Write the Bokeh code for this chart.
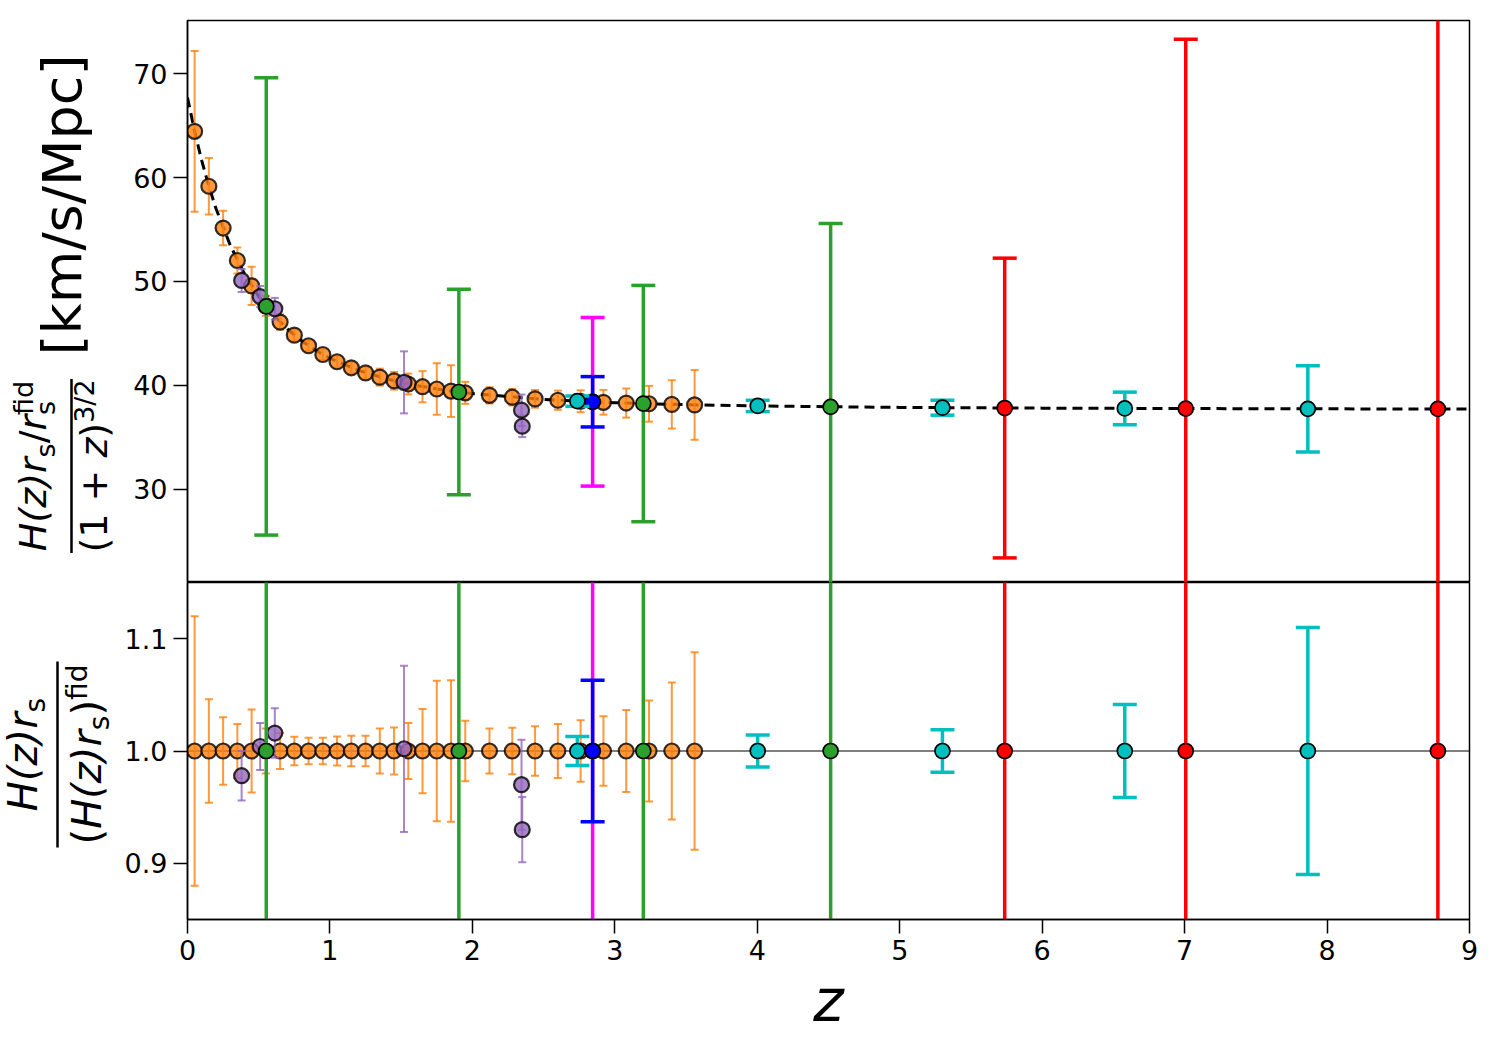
import math
from bokeh.plotting import figure
from bokeh.models import Range1d, FixedTicker, Span, CustomJSTickFormatter
from bokeh.core.properties import value
from bokeh.layouts import column, row
from bokeh.embed import file_html
from bokeh.resources import INLINE

# ---------------- data ----------------
# fiducial dashed curve  H(z) rs/rs_fid / (1+z)^1.5
fid_z = [0.0, 0.05, 0.1, 0.15, 0.2, 0.3, 0.4, 0.5, 0.6, 0.7, 0.8, 0.9, 1.0, 1.2, 1.4,
         1.6, 1.8, 2.0, 2.5, 3.0, 3.5, 4.0, 5.0, 6.0, 7.0, 8.0, 9.0]
fid_h = [67.70, 64.44, 61.62, 59.16, 57.02, 53.48, 50.73, 48.56, 46.83, 45.44, 44.31,
         43.38, 42.62, 41.45, 40.62, 40.01, 39.56, 39.22, 38.66, 38.34, 38.15, 38.03,
         37.89, 37.82, 37.78, 37.75, 37.74]

# orange points
orange_z = [0.05, 0.15, 0.25, 0.35, 0.45, 0.55, 0.65, 0.75, 0.85, 0.95, 1.05, 1.15, 1.25,
            1.35, 1.45, 1.55, 1.65, 1.75, 1.85, 1.95, 2.12, 2.28, 2.44, 2.60, 2.76, 2.92,
            3.08, 3.24, 3.40, 3.56]
orange_h = [64.44, 59.16, 55.14, 52.02, 49.58, 47.65, 46.10, 44.84, 43.82, 42.98, 42.28,
            41.70, 41.21, 40.80, 40.45, 40.14, 39.88, 39.66, 39.46, 39.29, 39.05, 38.87,
            38.71, 38.58, 38.48, 38.38, 38.31, 38.24, 38.18, 38.13]
orange_ratio = [1.0, 1.0, 1.0, 1.0, 1.0, 1.0, 1.0, 1.0, 1.0, 1.0, 1.0, 1.0, 1.0, 1.0, 1.0,
                1.0, 1.0, 1.0, 1.0, 1.0, 1.0, 1.0, 1.0, 1.0, 1.0, 1.0, 1.0, 1.0, 1.0, 1.0]
orange_err = [0.120, 0.046, 0.030, 0.024, 0.037, 0.020, 0.016, 0.0127, 0.0118, 0.0118,
              0.013, 0.0136, 0.0136, 0.020, 0.021, 0.025, 0.0375, 0.0625, 0.063, 0.027,
              0.020, 0.0206, 0.022, 0.024, 0.0274, 0.031, 0.0366, 0.045, 0.061, 0.088]

# purple points
purple_z = [0.38, 0.51, 0.613, 1.52, 2.345, 2.35]
purple_h = [50.10, 48.55, 47.38, 40.30, 37.62, 36.08]
purple_ratio = [0.978, 1.004, 1.016, 1.002, 0.970, 0.930]
purple_err = [0.022, 0.021, 0.022, 0.074, 0.040, 0.029]

# green points
green_z = [0.553, 1.905, 3.20, 4.515]
green_h = [47.60, 39.37, 38.26, 37.94]
green_ratio = [1.0, 1.0, 1.0, 1.0]
green_err = [0.462, 0.251, 0.297, 0.465]

# magenta point
magenta_z = [2.844]
magenta_h = [38.43]
magenta_ratio = [1.0]
magenta_err = [0.211]

# blue point
blue_z = [2.844]
blue_h = [38.43]
blue_ratio = [1.0]
blue_err = [0.063]

# cyan points
cyan_z = [2.737, 4.003, 5.30, 6.58, 7.865]
cyan_h = [38.49, 38.03, 37.86, 37.79, 37.75]
cyan_ratio = [1.0, 1.0, 1.0, 1.0, 1.0]
cyan_err = [0.013, 0.0143, 0.019, 0.0415, 0.110]

# red points
red_z = [5.737, 7.008, 8.778]
red_h = [37.83, 37.78, 37.74]
red_ratio = [1.0, 1.0, 1.0]
red_err = [0.381, 0.940, 1.200]

x_ticks = [0, 1, 2, 3, 4, 5, 6, 7, 8, 9]
top_ticks = [30, 40, 50, 60, 70]
bot_ticks = [0.9, 1.0, 1.1]

# ---------------- layout constants ----------------
W, H = 1500, 1050
LW = 119                      # width of the strip holding the y-axis titles
FL, FR = 187, 1469            # frame left / right (page pixels)
TOP_T, TOP_B = 20, 582
BOT_B = 919
XR = (0, 9)
YT_R = (21.05, 75.1)
YB_R = (0.85, 1.15)
FONT = "DejaVu Sans"
PW = W - LW

p1 = figure(width=PW, height=TOP_B, x_range=Range1d(*XR), y_range=Range1d(*YT_R),
            x_axis_location=None, toolbar_location=None, output_backend="svg",
            min_border_left=FL - LW, min_border_right=W - FR, min_border_top=TOP_T,
            min_border_bottom=0, title=None)
p2 = figure(width=PW, height=H - TOP_B, x_range=p1.x_range, y_range=Range1d(*YB_R),
            toolbar_location=None, output_backend="svg",
            min_border_left=FL - LW, min_border_right=W - FR, min_border_top=0,
            min_border_bottom=H - BOT_B, title=None)


def style_axis(ax):
    ax.major_tick_out = 14
    ax.major_tick_in = 0
    ax.minor_tick_out = 0
    ax.minor_tick_in = 0
    ax.major_tick_line_width = 1.5
    ax.major_tick_line_color = "black"
    ax.axis_line_width = 1.5
    ax.axis_line_color = "black"
    ax.major_label_text_font = FONT
    ax.major_label_text_font_size = "27px"
    ax.major_label_text_color = "black"
    ax.major_label_standoff = 6


for p in (p1, p2):
    p.xgrid.visible = False
    p.ygrid.visible = False
    p.outline_line_color = "black"
    p.outline_line_width = 1.5
    p.background_fill_color = "white"
    p.border_fill_color = "white"
    for ax in p.yaxis:
        style_axis(ax)

p1.yaxis.ticker = FixedTicker(ticks=top_ticks)
p2.yaxis.ticker = FixedTicker(ticks=bot_ticks)
p2.yaxis.formatter = CustomJSTickFormatter(code="return tick.toFixed(1)")
for ax in p2.xaxis:
    style_axis(ax)
p2.xaxis.ticker = FixedTicker(ticks=x_ticks)
p2.xaxis.axis_label = "z"
p2.xaxis.axis_label_text_font = FONT
p2.xaxis.axis_label_text_font_style = "italic"
p2.xaxis.axis_label_text_font_size = "58px"
p2.xaxis.axis_label_text_color = "black"
p2.xaxis.axis_label_standoff = 4

# fiducial lines
p1.line(fid_z, fid_h, line_color="black", line_width=3, line_dash="10 6")
ref = Span(location=1.0, dimension="width", line_color="black", line_width=1.2)
ref.level = "underlay"
p2.add_layout(ref)


def draw(z, h, ratio, err, color, alpha, lw, capw, capthick, edge_w, edge_alpha):
    top_lo = [v - v * e for v, e in zip(h, err)]
    top_hi = [v + v * e for v, e in zip(h, err)]
    bot_lo = [r - e for r, e in zip(ratio, err)]
    bot_hi = [r + e for r, e in zip(ratio, err)]
    for p, y, lo, hi in ((p1, h, top_lo, top_hi), (p2, ratio, bot_lo, bot_hi)):
        p.segment(x0=z, y0=lo, x1=z, y1=hi, line_color=color, line_width=lw,
                  line_alpha=alpha)
        p.scatter(x=z, y=lo, marker="dash", size=capw, line_color=color,
                  line_width=capthick, line_alpha=alpha)
        p.scatter(x=z, y=hi, marker="dash", size=capw, line_color=color,
                  line_width=capthick, line_alpha=alpha)
        p.scatter(x=z, y=y, marker="circle", size=15, fill_color=color,
                  fill_alpha=alpha, line_color="black", line_width=edge_w,
                  line_alpha=edge_alpha)


draw(orange_z, orange_h, orange_ratio, orange_err, "#ff7f0e", 0.8, 2.0, 8, 2.0, 2.2, 0.8)
draw(purple_z, purple_h, purple_ratio, purple_err, "#9467bd", 0.8, 2.0, 8, 2.0, 2.2, 0.8)
draw(green_z, green_h, green_ratio, green_err, "#2ca02c", 1.0, 3.5, 24, 3.5, 1.7, 1.0)
draw(magenta_z, magenta_h, magenta_ratio, magenta_err, "#ff00ff", 1.0, 3.5, 24, 3.5, 1.7, 1.0)
draw(blue_z, blue_h, blue_ratio, blue_err, "#0000ff", 1.0, 3.5, 24, 3.5, 1.7, 1.0)
draw(cyan_z, cyan_h, cyan_ratio, cyan_err, "#00bfbf", 1.0, 3.5, 24, 3.5, 1.7, 1.0)
draw(red_z, red_h, red_ratio, red_err, "#ff0000", 1.0, 3.5, 24, 3.5, 1.7, 1.0)

# ---------------- y-axis titles: strip on the left, built from text pieces ----------------
pl = figure(width=LW, height=H, x_range=Range1d(0, LW), y_range=Range1d(0, H),
            x_axis_location=None, y_axis_location=None, min_border=0,
            toolbar_location=None, output_backend="svg", title=None)
pl.outline_line_color = None
pl.grid.visible = False
pl.background_fill_color = "white"
pl.border_fill_color = "white"

BASE_SHIFT = 0.4   # empirical offset of the rendered baseline (fraction of font size)


def rt(px, py, text, size, style="normal", align="left"):
    pl.text(x=[px - BASE_SHIFT * size], y=[H - py], text=[text], angle=math.pi / 2,
            text_font=value(FONT), text_font_size=value(f"{size}px"),
            text_font_style=value(style), text_align=value(align),
            text_baseline=value("alphabetic"), text_color="black")


def bar(px, py0, py1):
    pl.segment(x0=[px], y0=[H - py0], x1=[px], y1=[H - py1], line_color="black",
               line_width=2.5)


# DejaVu Sans advance widths (em)
ADV = {"H": 0.752, "(": 0.390, ")": 0.390, "z": 0.525, "r": 0.411, "s": 0.521,
       "/": 0.337, "f": 0.352, "i": 0.278, "d": 0.635, "1": 0.636, "+": 0.838,
       " ": 0.318, "3": 0.636, "2": 0.636}


def wid(t, size):
    return sum(ADV[ch] for ch in t) * size


# top panel title
F, S = 38, 27
c = 465.5
bn, bd = 48, 109
num_w = wid("H(z)r", F) + wid("s", S) + wid("/r", F) + wid("fid", S)
y0 = c + num_w / 2
rt(bn, y0, "H(z)r", F, "italic")
a = wid("H(z)r", F)
rt(bn + 8, y0 - a, "s", S)
a += wid("s", S)
rt(bn, y0 - a, "/", F)
a += wid("/", F)
rt(bn, y0 - a, "r", F, "italic")
a += wid("r", F)
rt(bn + 8, y0 - a, "s", S)
rt(bn - 14, y0 - a, "fid", S)

den_w = wid("(1 + ", F) + wid("z", F) + wid(")", F) + wid("3/2", S)
y0 = c + den_w / 2
rt(bd, y0, "(1 +", F)
a = wid("(1 + ", F)
rt(bd, y0 - a, "z", F, "italic")
a += wid("z", F)
rt(bd, y0 - a, ")", F)
a += wid(")", F)
rt(bd - 14, y0 - a, "3/2", S)
bar(71, c + 87, c - 87)

rt(84, 204.5, "[km/s/Mpc]", 54, "normal", "center")

# bottom panel title
F, S = 40, 28
c = 754
bn, bd = 38.5, 102
num_w = wid("H(z)r", F) + wid("s", S)
y0 = c + num_w / 2
rt(bn, y0, "H(z)r", F, "italic")
rt(bn + 8, y0 - wid("H(z)r", F), "s", S)

den_w = wid("(", F) + wid("H(z)r", F) + wid("s", S) + wid(")", F) + wid("fid", S)
y0 = c + den_w / 2
rt(bd, y0, "(", F)
a = wid("(", F)
rt(bd, y0 - a, "H(z)r", F, "italic")
a += wid("H(z)r", F)
rt(bd + 8, y0 - a, "s", S)
a += wid("s", S)
rt(bd, y0 - a, ")", F)
a += wid(")", F)
rt(bd - 14, y0 - a, "fid", S)
bar(57, c + 93, c - 93)

layout = row(pl, column(p1, p2))
open("out.html", "w").write(file_html(layout, INLINE))
